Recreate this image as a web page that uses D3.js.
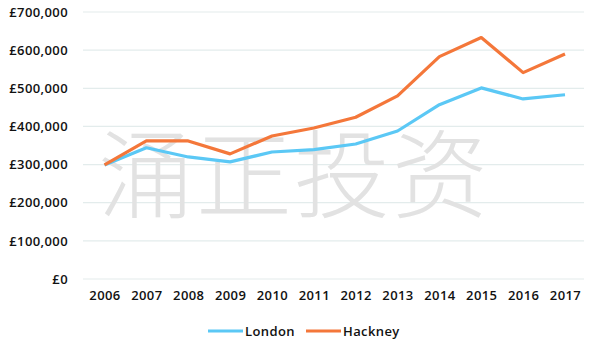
<!DOCTYPE html>
<html>
<head>
<meta charset="utf-8">
<script src="https://cdn.jsdelivr.net/npm/d3@7"></script>
<style>
  html, body { margin: 0; padding: 0; background: #fff; }
  svg text { font-family: "Open Sans", sans-serif; }
</style>
</head>
<body>
<div id="chart"></div>
<script>
var years = ["2006","2007","2008","2009","2010","2011","2012","2013","2014","2015","2016","2017"];
var london = [299000, 344000, 320000, 307000, 333000, 339000, 354000, 388000, 457000, 501000, 472000, 483000];
var hackney = [299000, 362000, 362000, 328000, 375000, 396000, 424000, 480000, 583000, 633000, 541000, 590000];
var yTicks = [0, 100000, 200000, 300000, 400000, 500000, 600000, 700000];

var width = 600, height = 352;
var svg = d3.select("#chart").append("svg")
  .attr("width", width).attr("height", height);

var x = d3.scalePoint().domain(years).range([104.5, 565]);
var y = d3.scaleLinear().domain([0, 700000]).range([279, 12]);

var fmt = function(d){ return "£" + d3.format(",")(d); };

// grid
svg.append("g").selectAll("line").data(yTicks).enter().append("line")
  .attr("x1", 83).attr("x2", 584)
  .attr("y1", function(d){ return y(d); }).attr("y2", function(d){ return y(d); })
  .attr("stroke", "#e3ecec").attr("stroke-width", 1.2);

// watermark
svg.append("text")
  .attr("x", 294).attr("y", 210)
  .attr("text-anchor", "middle")
  .style("font-family", "'Noto Sans CJK SC'")
  .style("font-weight", 300)
  .style("font-size", "96px")
  .style("letter-spacing", "2px")
  .attr("fill", "#e2e2e2")
  .text("涌正投资");

var labelStyle = function(sel){
  sel.style("font-size", "13px").style("font-weight", 600)
    .style("letter-spacing", "0.4px").attr("fill", "#111");
};

// y axis labels
var yAxis = d3.axisLeft(y).tickValues(yTicks).tickFormat(fmt).tickSize(0).tickPadding(0);
svg.append("g").attr("transform", "translate(68,0)").call(yAxis)
  .call(function(g){ g.select(".domain").remove(); })
  .selectAll("text").call(labelStyle);

// x axis labels
var xAxis = d3.axisBottom(x).tickSize(0).tickPadding(0);
svg.append("g").attr("transform", "translate(0,291)").call(xAxis)
  .call(function(g){ g.select(".domain").remove(); })
  .selectAll("text").call(labelStyle);

var line = d3.line()
  .x(function(d, i){ return x(years[i]); })
  .y(function(d){ return y(d); });

var series = [
  { name: "London", values: london, color: "#5bc8f5" },
  { name: "Hackney", values: hackney, color: "#f4773a" }
];

svg.append("g").selectAll("path").data(series).enter().append("path")
  .attr("d", function(s){ return line(s.values); })
  .attr("fill", "none")
  .attr("stroke", function(s){ return s.color; })
  .attr("stroke-width", 3.2)
  .attr("stroke-linejoin", "round");

// legend
var legend = svg.append("g").selectAll("g").data(series).enter().append("g")
  .attr("transform", function(s, i){ return "translate(" + (208 + i * 98) + ",331)"; });
legend.append("line")
  .attr("x1", 0).attr("x2", 35)
  .attr("stroke", function(s){ return s.color; })
  .attr("stroke-width", 3.2);
legend.append("text")
  .attr("x", 37).attr("y", 4.5)
  .call(labelStyle)
  .text(function(s){ return s.name; });
</script>
</body>
</html>
